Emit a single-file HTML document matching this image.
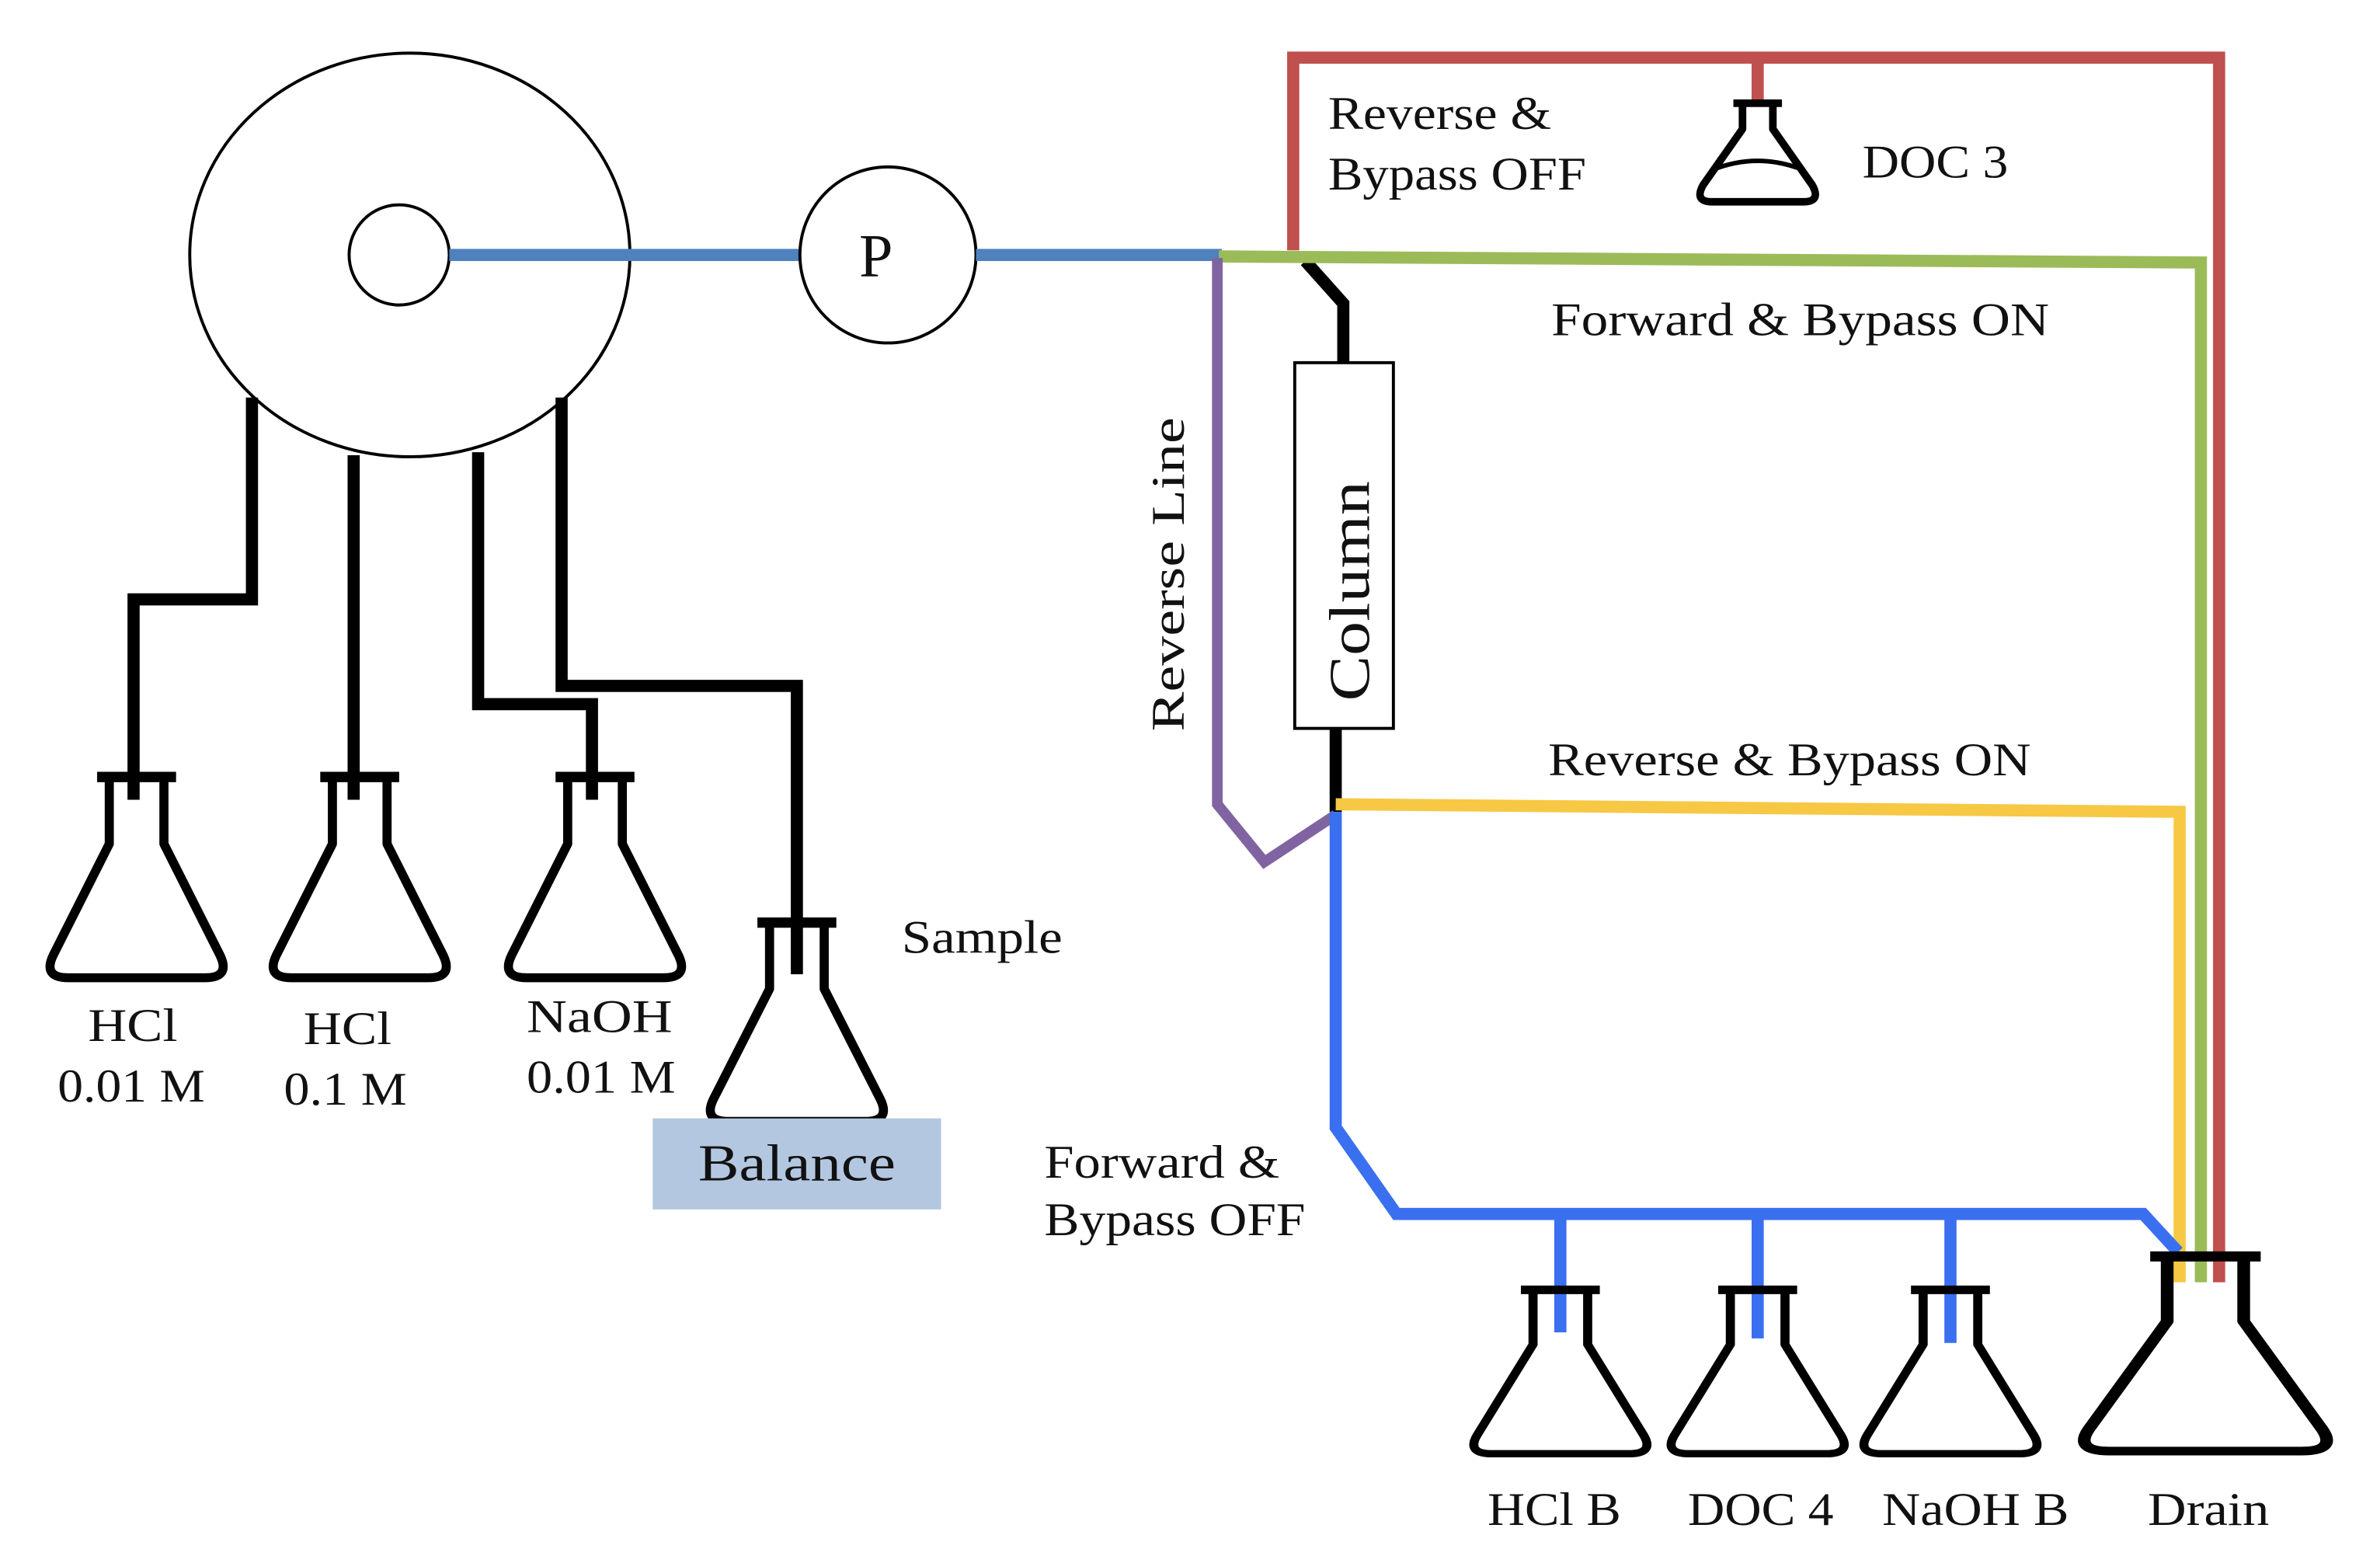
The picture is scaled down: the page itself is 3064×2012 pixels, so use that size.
<!DOCTYPE html>
<html><head><meta charset="utf-8"><style>html,body{margin:0;padding:0;background:#fff}svg{display:block}</style></head>
<body>
<svg width="3064" height="2012" viewBox="0 0 1568 1030" preserveAspectRatio="none" xmlns="http://www.w3.org/2000/svg" font-family="Liberation Serif, serif" font-size="31" fill="#111">
<defs>
<g id="fl">
<path d="M-26,0 H26" stroke="#000" stroke-width="7" fill="none"/>
<path d="M-18,2 V45 L-55,120 Q-62,135 -45,135 H45 Q62,135 55,120 L18,45 V2" stroke="#000" stroke-width="6" fill="none" stroke-linejoin="round"/>
</g>
</defs>
<!-- wheel & pump -->
<ellipse cx="270" cy="168" rx="145" ry="133" fill="#fff" stroke="#000" stroke-width="2"/>
<circle cx="263" cy="168" r="33" fill="#fff" stroke="#000" stroke-width="2"/>
<line x1="296" y1="168" x2="528" y2="168" stroke="#4f81bd" stroke-width="8"/>
<circle cx="585" cy="168" r="58" fill="#fff" stroke="#000" stroke-width="2"/>
<text x="566" y="182" font-size="40">P</text>
<line x1="643" y1="168" x2="805" y2="168" stroke="#4f81bd" stroke-width="8"/>
<!-- black feed lines -->
<g stroke="#000" stroke-width="8" fill="none">
<path d="M166,262 V395 H88 V527"/>
<path d="M233,300 V527"/>
<path d="M315,298 V464 H390 V527"/>
<path d="M370,262 V452 H525 V642"/>
<path d="M860,172 L885,200 V240"/>
<path d="M880,480 V535"/>
</g>
<!-- flasks -->
<use href="#fl" transform="translate(90,512) scale(1,0.98)"/>
<use href="#fl" transform="translate(237,512) scale(1,0.98)"/>
<use href="#fl" transform="translate(392,512) scale(1,0.98)"/>
<use href="#fl" transform="translate(525,608) scale(1,0.97)"/>
<rect x="430" y="737" width="190" height="60" fill="#b4c7e0"/>
<text x="460" y="778" font-size="34" textLength="130" lengthAdjust="spacingAndGlyphs">Balance</text>
<!-- red -->
<path d="M852,165 V38 H1462 V845 M1158,38 V68" stroke="#c0504d" stroke-width="8" fill="none"/>
<!-- green -->
<path d="M803,169 L1450,173 V845" stroke="#9bbb59" stroke-width="8" fill="none"/>
<!-- purple -->
<path d="M802,170 V530 L833,568 L880,537" stroke="#8064a2" stroke-width="7" fill="none"/>
<!-- yellow -->
<path d="M880,530 L1436,535 V845" stroke="#f6c844" stroke-width="8" fill="none"/>
<!-- blue -->
<path d="M880,535 V743 L920,800 H1412 L1435,825 M1028,800 V878 M1158,800 V882 M1285,800 V885" stroke="#3a6ff0" stroke-width="8" fill="none"/>
<!-- column -->
<rect x="853" y="239" width="65" height="241" fill="#fff" stroke="#000" stroke-width="2"/>
<text transform="translate(902,462) rotate(-90)" font-size="38" textLength="145" lengthAdjust="spacingAndGlyphs">Column</text>
<text transform="translate(780,482) rotate(-90)" textLength="207" lengthAdjust="spacingAndGlyphs">Reverse Line</text>
<!-- bottom flasks -->
<use href="#fl" transform="translate(1028,850) scale(1,0.8)"/>
<use href="#fl" transform="translate(1158,850) scale(1,0.8)"/>
<use href="#fl" transform="translate(1285,850) scale(1,0.8)"/>
<use href="#fl" transform="translate(1453,828) scale(1.4,0.95)"/>
<!-- DOC3 flask -->
<g stroke="#000" stroke-width="5" fill="none" stroke-linejoin="round">
<path d="M1142,68 H1174"/>
<path d="M1148,70 V85 L1122,122 Q1116,133 1128,133 H1188 Q1200,133 1194,122 L1168,85 V70"/>
<path d="M1128,112 Q1158,100 1188,112" stroke-width="3"/>
</g>
<!-- labels -->
<g lengthAdjust="spacingAndGlyphs">
<text x="875" y="85" textLength="147" lengthAdjust="spacingAndGlyphs">Reverse &amp;</text>
<text x="875" y="125" textLength="170" lengthAdjust="spacingAndGlyphs">Bypass OFF</text>
<text x="1227" y="117" textLength="96" lengthAdjust="spacingAndGlyphs">DOC 3</text>
<text x="1022" y="221" textLength="328" lengthAdjust="spacingAndGlyphs">Forward &amp; Bypass ON</text>
<text x="1020" y="511" textLength="318" lengthAdjust="spacingAndGlyphs">Reverse &amp; Bypass ON</text>
<text x="688" y="776" textLength="155" lengthAdjust="spacingAndGlyphs">Forward &amp;</text>
<text x="688" y="814" textLength="172" lengthAdjust="spacingAndGlyphs">Bypass OFF</text>
<text x="594" y="628" textLength="106" lengthAdjust="spacingAndGlyphs">Sample</text>
<text x="58" y="686" textLength="59" lengthAdjust="spacingAndGlyphs">HCl</text>
<text x="38" y="726" textLength="97" lengthAdjust="spacingAndGlyphs">0.01 M</text>
<text x="200" y="688" textLength="58" lengthAdjust="spacingAndGlyphs">HCl</text>
<text x="187" y="728" textLength="81" lengthAdjust="spacingAndGlyphs">0.1 M</text>
<text x="347" y="680" textLength="96" lengthAdjust="spacingAndGlyphs">NaOH</text>
<text x="347" y="720" textLength="98" lengthAdjust="spacingAndGlyphs">0.01 M</text>
<text x="980" y="1005" textLength="88" lengthAdjust="spacingAndGlyphs">HCl B</text>
<text x="1112" y="1005" textLength="96" lengthAdjust="spacingAndGlyphs">DOC 4</text>
<text x="1240" y="1005" textLength="123" lengthAdjust="spacingAndGlyphs">NaOH B</text>
<text x="1415" y="1005" textLength="80" lengthAdjust="spacingAndGlyphs">Drain</text>
</g>
</svg>
</body></html>
